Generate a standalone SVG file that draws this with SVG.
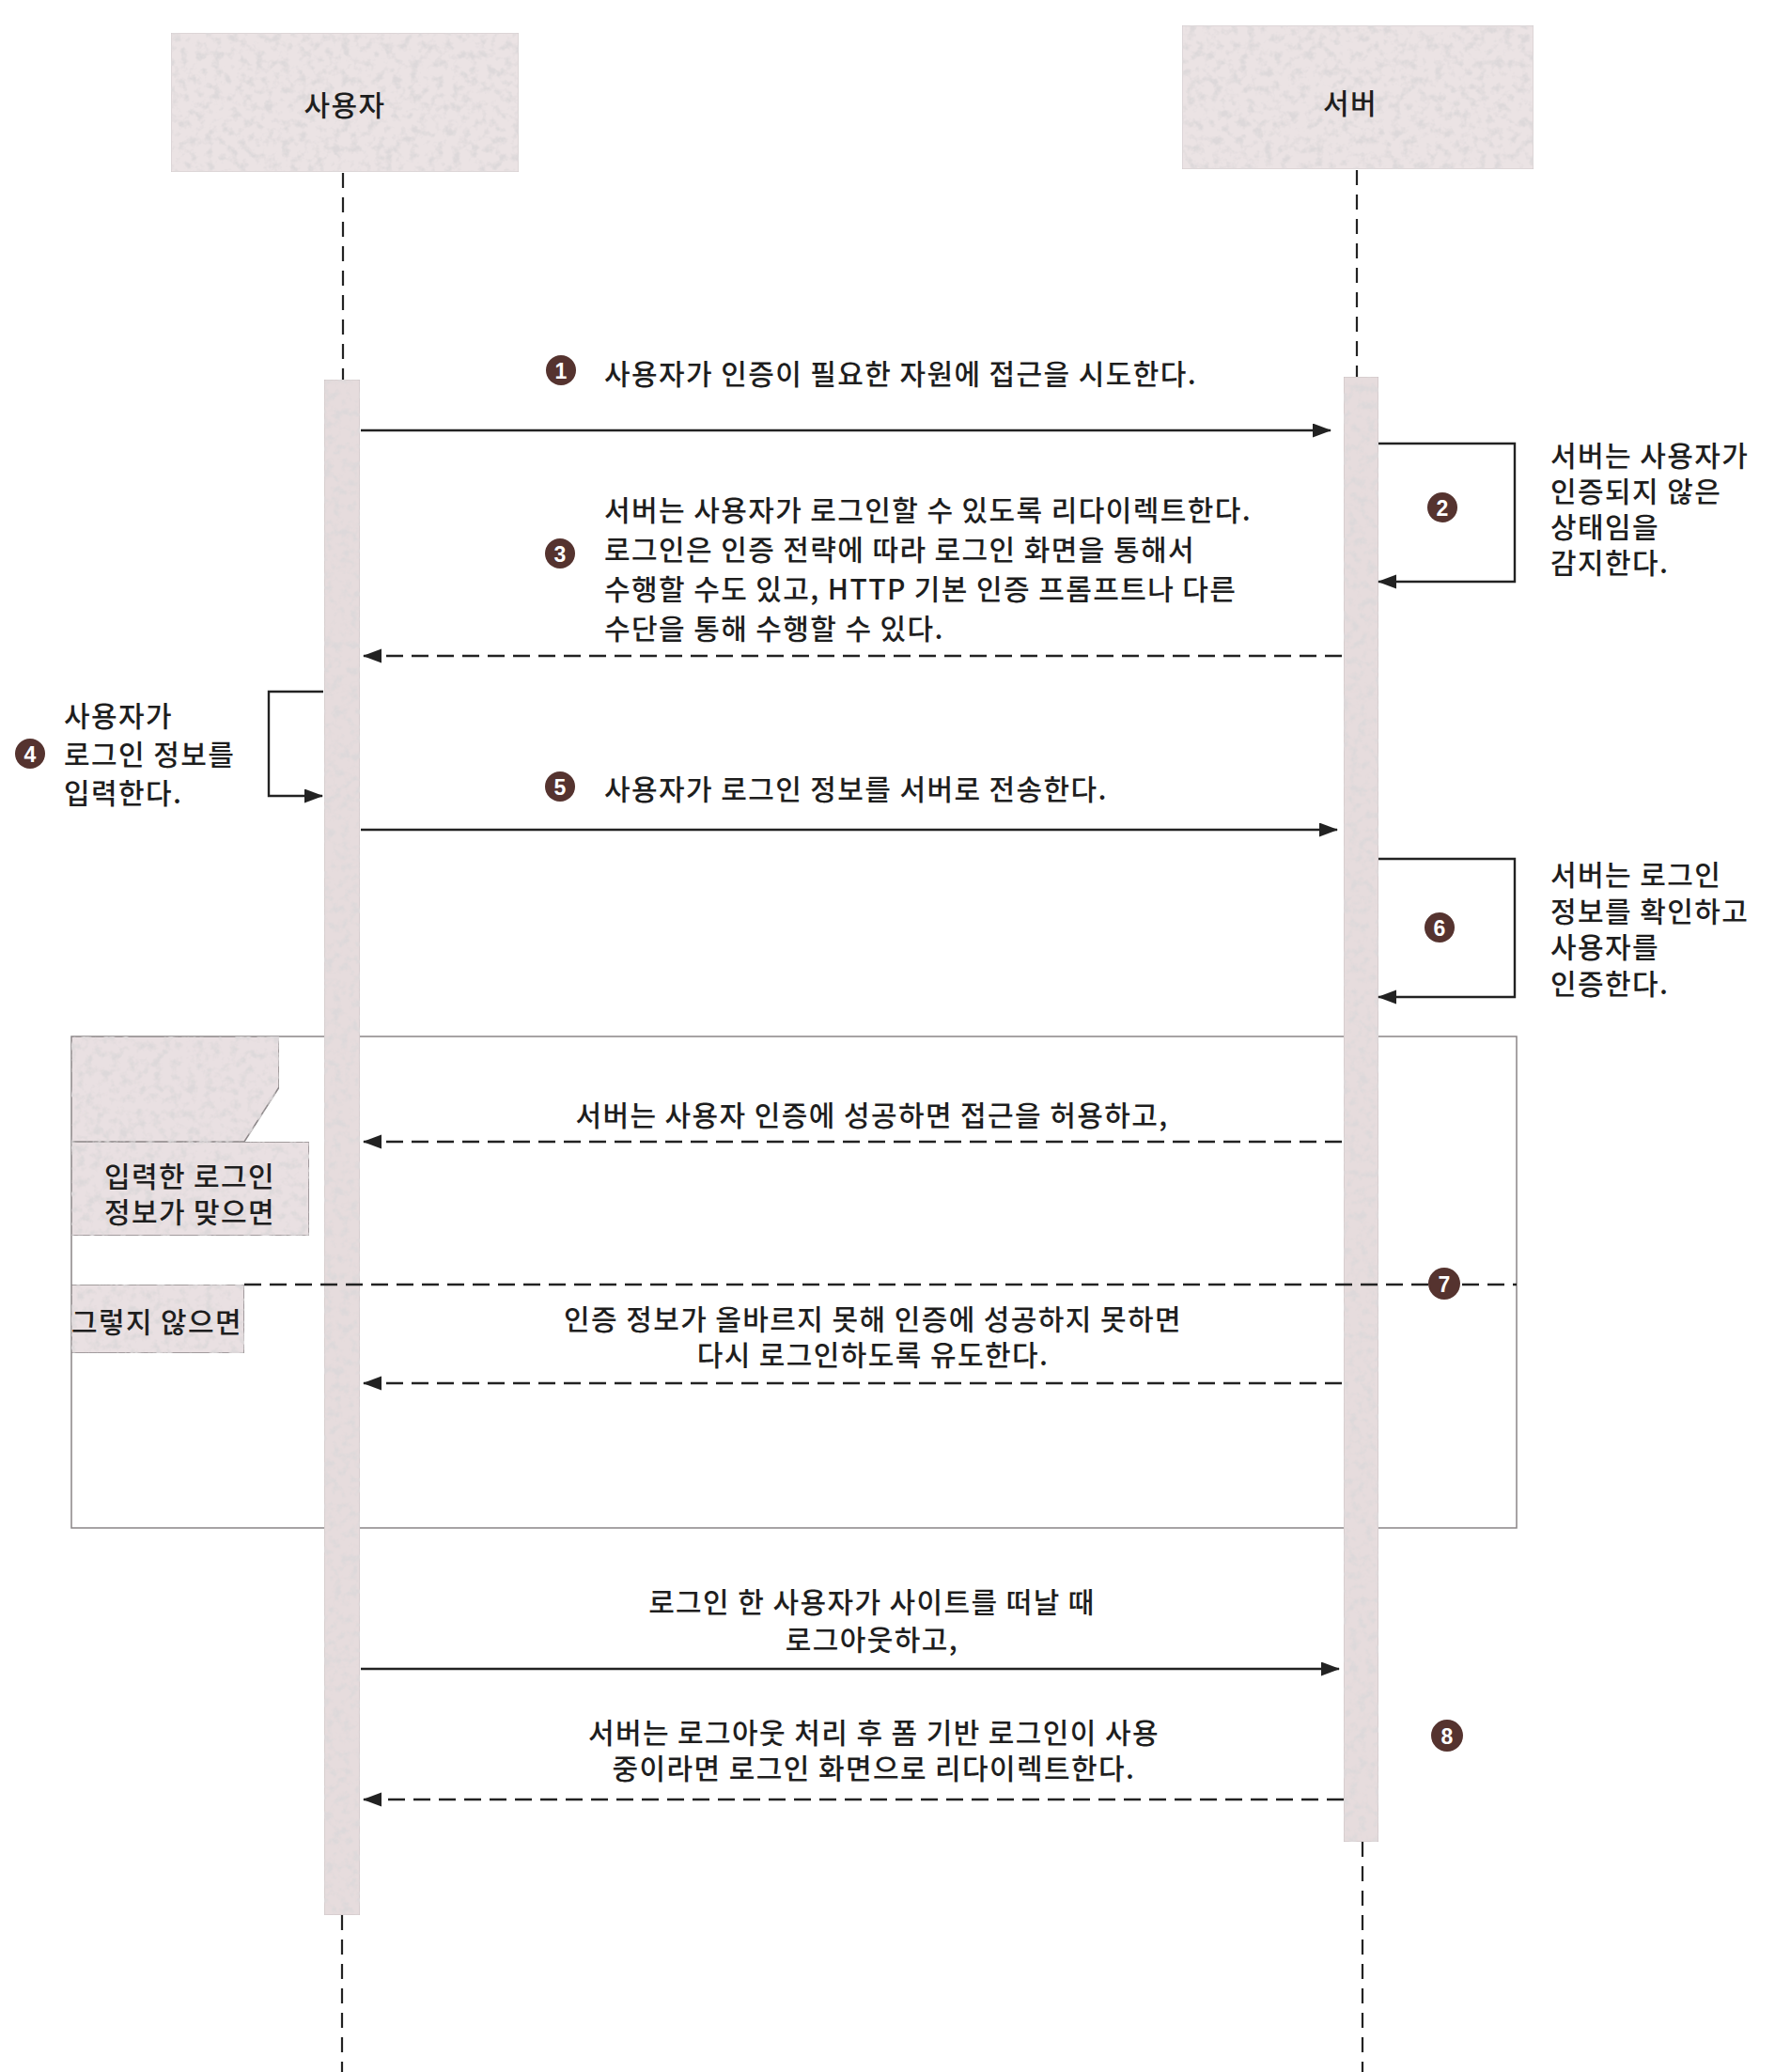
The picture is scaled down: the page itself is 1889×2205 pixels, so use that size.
<svg xmlns="http://www.w3.org/2000/svg" width="1889" height="2205" viewBox="0 0 1889 2205">
<style>
  .t { font-family: "Noto Sans CJK KR", "Noto Sans", "Liberation Sans", sans-serif; font-size: 30px; font-weight: 500; letter-spacing: 1.4px; fill: #1e1e1e; dominant-baseline: central; }
  .c { text-anchor: middle; }
  .num { font-family: "Liberation Sans", "Noto Sans", sans-serif; font-weight: bold; font-size: 23px; fill: #fff; text-anchor: middle; dominant-baseline: central; }
  .badge { fill: #55332f; }
  .box { fill: #ebe3e4; stroke: #d0c8ca; stroke-width: 1; }
  .bar { fill: #e6dcdd; stroke: #c8bfc0; stroke-width: 1; }
  .life { stroke: #222; stroke-width: 2.2; stroke-dasharray: 16 10; fill: none; }
  .msg { stroke: #222; stroke-width: 2.4; fill: none; }
  .dash { stroke-dasharray: 18 9; }
  .frame { fill: none; stroke: #8a8587; stroke-width: 1.5; }
  .lbl { fill: #e9e0e2; stroke: #8a8587; stroke-width: 1.5; }
</style>
<defs>
  <marker id="ah" markerUnits="userSpaceOnUse" markerWidth="20" markerHeight="16" refX="19" refY="7.5" orient="auto">
    <path d="M0,0 L20,7.5 L0,15 z" fill="#222" stroke="none"/>
  </marker>
  <filter id="speckle" x="0" y="0" width="100%" height="100%">
    <feTurbulence type="fractalNoise" baseFrequency="0.11" numOctaves="3" seed="5" result="n"/>
    <feColorMatrix in="n" type="matrix" values="0 0 0 0 0.72  0 0 0 0 0.69  0 0 0 0 0.70  3.4 0 0 0 -1.6" result="spots"/>
    <feComposite in="spots" in2="SourceGraphic" operator="in" result="s2"/>
    <feMerge><feMergeNode in="SourceGraphic"/><feMergeNode in="s2"/></feMerge>
  </filter>
</defs>
<rect width="1889" height="2205" fill="#ffffff"/>

<g id="lifelines">
  <line class="life" x1="365" y1="184" x2="365" y2="404"/>
  <line class="life" x1="364" y1="2038" x2="364" y2="2205"/>
  <line class="life" x1="1444" y1="181" x2="1444" y2="401"/>
  <line class="life" x1="1450" y1="1960" x2="1450" y2="2205"/>
</g>

<g id="actor-user">
  <rect class="box" x="182" y="35" width="370" height="148" filter="url(#speckle)"/>
  <text class="t c" x="367" y="110">사용자</text>
</g>
<g id="actor-server">
  <rect class="box" x="1258" y="27" width="374" height="153" fill="#e4dadc" filter="url(#speckle)"/>
  <text class="t c" x="1437" y="108">서버</text>
</g>

<g id="alt-frame">
  <rect class="frame" x="76" y="1103" width="1538" height="523"/>
  <path class="lbl" d="M76,1103 H297 V1157 L260,1215 H76 Z" filter="url(#speckle)"/>
  <g id="guard-success">
    <rect class="lbl" x="76" y="1215" width="253" height="100" filter="url(#speckle)"/>
    <text class="t c" x="202" y="1250">입력한 로그인</text>
    <text class="t c" x="202" y="1288">정보가 맞으면</text>
  </g>
  <g id="guard-else">
    <rect class="lbl" x="76" y="1367" width="184" height="73" filter="url(#speckle)"/>
    <text class="t c" x="167" y="1405">그렇지 않으면</text>
  </g>
</g>

<g id="activation-user">
  <rect class="bar" x="345" y="404" width="38" height="1634" filter="url(#speckle)"/>
</g>
<g id="activation-server">
  <rect class="bar" x="1430" y="401" width="37" height="1559" filter="url(#speckle)"/>
</g>

<g id="connectors">
  <line class="msg" x1="384" y1="458" x2="1416" y2="458" marker-end="url(#ah)"/>
  <path class="msg" d="M1467,472 H1612 V619 H1467" marker-end="url(#ah)"/>
  <line class="msg dash" x1="1428" y1="698" x2="387" y2="698" marker-end="url(#ah)"/>
  <path class="msg" d="M344,736 H286 V847 H343" marker-end="url(#ah)"/>
  <line class="msg" x1="384" y1="883" x2="1423" y2="883" marker-end="url(#ah)"/>
  <path class="msg" d="M1467,914 H1612 V1061 H1467" marker-end="url(#ah)"/>
  <line class="msg dash" x1="1428" y1="1215" x2="387" y2="1215" marker-end="url(#ah)"/>
  <line class="msg dash" x1="260" y1="1367" x2="1614" y2="1367"/>
  <line class="msg dash" x1="1428" y1="1472" x2="387" y2="1472" marker-end="url(#ah)"/>
  <line class="msg" x1="384" y1="1776" x2="1425" y2="1776" marker-end="url(#ah)"/>
  <line class="msg dash" x1="1430" y1="1915" x2="387" y2="1915" marker-end="url(#ah)"/>
</g>

<g id="step-1">
  <circle class="badge" cx="597" cy="394" r="16"/>
  <text class="num" x="597" y="395">1</text>
  <text class="t" x="643" y="396">사용자가 인증이 필요한 자원에 접근을 시도한다.</text>
</g>
<g id="step-2">
  <circle class="badge" cx="1535" cy="540" r="16"/>
  <text class="num" x="1535" y="541">2</text>
  <text class="t" x="1650" y="483">서버는 사용자가</text>
  <text class="t" x="1650" y="521">인증되지 않은</text>
  <text class="t" x="1650" y="559">상태임을</text>
  <text class="t" x="1650" y="597">감지한다.</text>
</g>
<g id="step-3">
  <circle class="badge" cx="596" cy="589" r="16"/>
  <text class="num" x="596" y="590">3</text>
  <text class="t" x="643" y="541">서버는 사용자가 로그인할 수 있도록 리다이렉트한다.</text>
  <text class="t" x="643" y="583">로그인은 인증 전략에 따라 로그인 화면을 통해서</text>
  <text class="t" x="643" y="625">수행할 수도 있고, HTTP 기본 인증 프롬프트나 다른</text>
  <text class="t" x="643" y="667">수단을 통해 수행할 수 있다.</text>
</g>
<g id="step-4">
  <circle class="badge" cx="32" cy="802" r="16"/>
  <text class="num" x="32" y="803">4</text>
  <text class="t" x="68" y="760">사용자가</text>
  <text class="t" x="68" y="801">로그인 정보를</text>
  <text class="t" x="68" y="842">입력한다.</text>
</g>
<g id="step-5">
  <circle class="badge" cx="596" cy="837" r="16"/>
  <text class="num" x="596" y="838">5</text>
  <text class="t" x="643" y="838">사용자가 로그인 정보를 서버로 전송한다.</text>
</g>
<g id="step-6">
  <circle class="badge" cx="1532" cy="987" r="16"/>
  <text class="num" x="1532" y="988">6</text>
  <text class="t" x="1650" y="929">서버는 로그인</text>
  <text class="t" x="1650" y="968">정보를 확인하고</text>
  <text class="t" x="1650" y="1006">사용자를</text>
  <text class="t" x="1650" y="1045">인증한다.</text>
</g>
<g id="step-7">
  <text class="t c" x="928" y="1185">서버는 사용자 인증에 성공하면 접근을 허용하고,</text>
  <circle class="badge" cx="1537" cy="1366" r="17"/>
  <text class="num" x="1537" y="1367">7</text>
  <text class="t c" x="929" y="1402">인증 정보가 올바르지 못해 인증에 성공하지 못하면</text>
  <text class="t c" x="929" y="1440">다시 로그인하도록 유도한다.</text>
</g>
<g id="step-8">
  <text class="t c" x="928" y="1703">로그인 한 사용자가 사이트를 떠날 때</text>
  <text class="t c" x="928" y="1743">로그아웃하고,</text>
  <circle class="badge" cx="1540" cy="1847" r="17"/>
  <text class="num" x="1540" y="1848">8</text>
  <text class="t c" x="930" y="1842">서버는 로그아웃 처리 후 폼 기반 로그인이 사용</text>
  <text class="t c" x="930" y="1880">중이라면 로그인 화면으로 리다이렉트한다.</text>
</g>
</svg>
